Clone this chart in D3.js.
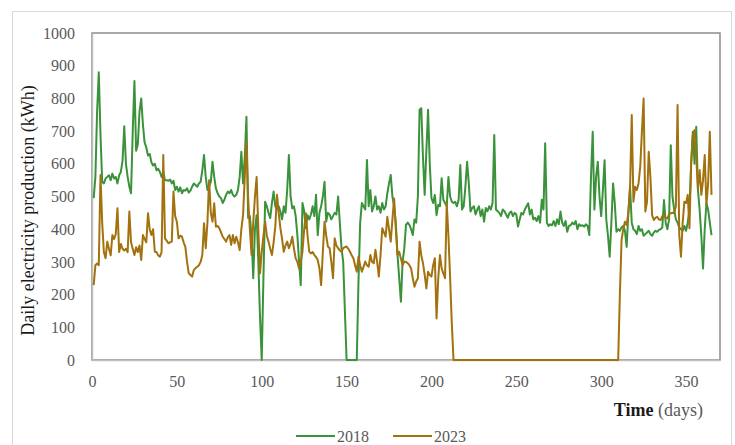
<!DOCTYPE html>
<html>
<head>
<meta charset="utf-8">
<script src="https://cdn.jsdelivr.net/npm/d3@7"></script>
<style>
  html, body { margin: 0; padding: 0; background: #fff; }
  svg { display: block; }
  svg text { font-family: "Liberation Serif", "DejaVu Serif", serif; }
</style>
</head>
<body>
<svg id="chart" width="735" height="445"></svg>
<script>
// daily production, day 1..365
const prod2018 = [
  495, 560, 760, 880, 690, 545, 540, 555, 560, 565,
  550, 570, 555, 560, 540, 565, 575, 610, 715, 600,
  560, 530, 510, 700, 853, 640, 660, 760, 800, 720,
  665, 650, 625, 630, 605, 595, 600, 580, 585, 575,
  560, 575, 550, 550, 548, 552, 540, 548, 520, 530,
  515, 528, 510, 520, 518, 525, 512, 518, 530, 540,
  535, 530, 540, 545, 580, 627, 560, 520, 530, 545,
  606, 560, 525, 510, 500, 495, 480, 490, 505, 515,
  510, 520, 505, 500, 505, 520, 560, 637, 540, 620,
  744, 434, 440, 380, 250, 400, 443, 300, 130, 0,
  250, 484, 470, 450, 434, 480, 515, 470, 460, 470,
  454, 430, 470, 450, 520, 627, 500, 464, 470, 440,
  382, 300, 229, 480, 455, 403, 443, 430, 445, 470,
  440, 505, 382, 450, 470, 500, 545, 423, 450, 445,
  430, 440, 450, 445, 500, 420, 342, 300, 150, 0,
  0, 0, 0, 0, 0, 0, 240, 420, 480, 470,
  460, 612, 470, 520, 454, 470, 500, 460, 470, 450,
  480, 460, 470, 510, 540, 566, 500, 470, 420, 321,
  250, 178, 300, 342, 413, 420, 413, 400, 382, 430,
  420, 500, 765, 770, 620, 505, 640, 765, 600, 495,
  480, 505, 443, 475, 470, 556, 490, 480, 470, 560,
  500, 484, 480, 484, 470, 490, 596, 460, 470, 530,
  606, 540, 454, 465, 470, 445, 460, 470, 440, 460,
  423, 465, 455, 470, 460, 480, 688, 460, 455, 450,
  440, 460, 455, 445, 435, 450, 454, 440, 450, 445,
  408, 430, 450, 445, 460, 470, 479, 445, 460, 430,
  435, 425, 440, 420, 490, 460, 663, 420, 410, 415,
  412, 425, 410, 430, 415, 454, 420, 410, 425, 392,
  410, 412, 420, 415, 425, 400, 415, 410, 412, 408,
  415, 410, 382, 560, 698, 460, 560, 606, 500, 440,
  520, 611, 430, 380, 316, 420, 540, 480, 392, 400,
  395, 405, 410, 395, 346, 450, 530, 420, 400, 395,
  385, 410, 395, 400, 380, 385, 390, 395, 385, 380,
  390, 395, 392, 398, 400, 405, 489, 420, 400, 430,
  657, 500, 460, 430, 420, 405, 400, 395, 410, 395,
  420, 460, 600, 698, 600, 713, 520, 460, 380, 280,
  400, 480, 460, 420, 382
];

const prod2023 = [
  229, 290, 295, 290, 566, 420, 330, 311, 362, 340,
  320, 382, 370, 385, 464, 330, 355, 340, 335, 340,
  330, 454, 360, 340, 321, 345, 330, 350, 306, 382,
  370, 360, 449, 400, 382, 400, 331, 330, 320, 316,
  330, 627, 372, 365, 357, 360, 362, 515, 440, 423,
  372, 380, 377, 360, 346, 300, 265, 260, 255, 275,
  281, 285, 290, 300, 321, 418, 342, 420, 550, 450,
  423, 479, 408, 410, 403, 390, 377, 370, 362, 375,
  382, 352, 382, 357, 377, 360, 336, 400, 443, 560,
  668, 494, 400, 321, 420, 500, 560, 400, 265, 331,
  380, 423, 380, 362, 340, 321, 360, 408, 505, 450,
  403, 370, 331, 350, 362, 342, 355, 377, 340, 311,
  300, 280, 301, 331, 400, 449, 380, 331, 326, 330,
  321, 315, 306, 280, 229, 330, 423, 380, 347, 342,
  300, 250, 372, 350, 342, 335, 331, 342, 345, 347,
  340, 331, 320, 311, 290, 270, 316, 290, 270, 285,
  301, 290, 285, 321, 300, 296, 337, 300, 255, 321,
  403, 390, 377, 438, 400, 362, 430, 494, 400, 321,
  331, 310, 290, 301, 300, 296, 290, 280, 250, 224,
  240, 250, 362, 320, 296, 260, 219, 270, 260, 255,
  290, 311, 127, 250, 321, 280, 265, 250, 479, 380,
  250, 110, 0, 0, 0, 0, 0, 0, 0, 0,
  0, 0, 0, 0, 0, 0, 0, 0, 0, 0,
  0, 0, 0, 0, 0, 0, 0, 0, 0, 0,
  0, 0, 0, 0, 0, 0, 0, 0, 0, 0,
  0, 0, 0, 0, 0, 0, 0, 0, 0, 0,
  0, 0, 0, 0, 0, 0, 0, 0, 0, 0,
  0, 0, 0, 0, 0, 0, 0, 0, 0, 0,
  0, 0, 0, 0, 0, 0, 0, 0, 0, 0,
  0, 0, 0, 0, 0, 0, 0, 0, 0, 0,
  0, 0, 0, 0, 0, 0, 0, 0, 0, 0,
  200, 367, 400, 423, 413, 450, 525, 749, 484, 530,
  520, 540, 591, 700, 800, 454, 484, 637, 560, 443,
  428, 435, 438, 430, 428, 440, 443, 435, 433, 445,
  449, 450, 449, 470, 780, 382, 316, 420, 484, 480,
  505, 403, 600, 688, 703, 620, 525, 581, 505, 550,
  627, 474, 540, 698, 505
];

const seriesNames = ["2018", "2023"];
const seriesColors = ["#3a923a", "#a2720e"];
const xTicks = [0, 50, 100, 150, 200, 250, 300, 350];
const yTicks = [0, 100, 200, 300, 400, 500, 600, 700, 800, 900, 1000];

const svg = d3.select("#chart");
const margin = {top: 33, right: 15, bottom: 85, left: 92};
const W = 735, H = 445;

const x = d3.scaleLinear().domain([0, 370]).range([margin.left, W - margin.right]);
const y = d3.scaleLinear().domain([0, 1000]).range([H - margin.bottom, margin.top]);

// outer frame
svg.append("rect")
    .attr("x", 12.5).attr("y", 11.5)
    .attr("width", 719).attr("height", 450)
    .attr("fill", "none")
    .attr("stroke", "#d9d9d9");

// plot area border
svg.append("rect")
    .attr("x", x(0)).attr("y", y(1000))
    .attr("width", x(370) - x(0)).attr("height", y(0) - y(1000))
    .attr("fill", "none")
    .attr("stroke", "#8c8c8c")
    .attr("stroke-width", 1.5);

const yAxis = svg.append("g")
    .attr("transform", `translate(${x(0)},0)`)
    .call(d3.axisLeft(y).tickValues(yTicks).tickSize(0).tickPadding(17).tickFormat(d3.format("d")));
yAxis.attr("font-family", null);
yAxis.select(".domain").attr("stroke", "#bfbfbf").attr("stroke-width", 1.5);
yAxis.selectAll("text")
    .style("font-family", "'Liberation Serif', serif")
    .attr("font-size", 16)
    .attr("fill", "#595959");

const xAxis = svg.append("g")
    .attr("transform", `translate(0,${y(0)})`)
    .call(d3.axisBottom(x).tickValues(xTicks).tickSize(0).tickPadding(16).tickFormat(d3.format("d")));
xAxis.attr("font-family", null);
xAxis.select(".domain").attr("stroke", "#bfbfbf").attr("stroke-width", 1.5);
xAxis.selectAll("text")
    .style("font-family", "'Liberation Serif', serif")
    .attr("font-size", 16)
    .attr("fill", "#595959");

const line = d3.line()
    .x((d, i) => x(i + 1))
    .y(d => y(d));

[prod2018, prod2023].forEach((vals, k) => {
  svg.append("path")
      .datum(vals)
      .attr("fill", "none")
      .attr("stroke", seriesColors[k])
      .attr("stroke-width", 2)
      .attr("stroke-linejoin", "round")
      .attr("d", line);
});

// axis titles
svg.append("text")
    .attr("transform", `translate(34,${(y(0) + y(1000)) / 2 + 14}) rotate(-90)`)
    .attr("text-anchor", "middle")
    .attr("font-size", 18)
    .attr("fill", "#1a1a1a")
    .text("Daily electricity production (kWh)");

const xt = svg.append("text")
    .attr("x", 703).attr("y", 416)
    .attr("text-anchor", "end")
    .attr("font-size", 18);
xt.append("tspan").attr("font-weight", "bold").attr("fill", "#1a1a1a").text("Time");
xt.append("tspan").attr("fill", "#595959").text(" (days)");

// legend
const legend = svg.append("g").attr("transform", "translate(296,436)");
seriesNames.forEach((name, k) => {
  const g = legend.append("g").attr("transform", `translate(${k * 97},0)`);
  g.append("line")
      .attr("x1", 0).attr("x2", 39)
      .attr("stroke", seriesColors[k])
      .attr("stroke-width", 2);
  g.append("text")
      .attr("x", 41).attr("y", 6)
      .attr("font-size", 16)
      .attr("fill", "#595959")
      .text(name);
});
</script>
</body>
</html>
